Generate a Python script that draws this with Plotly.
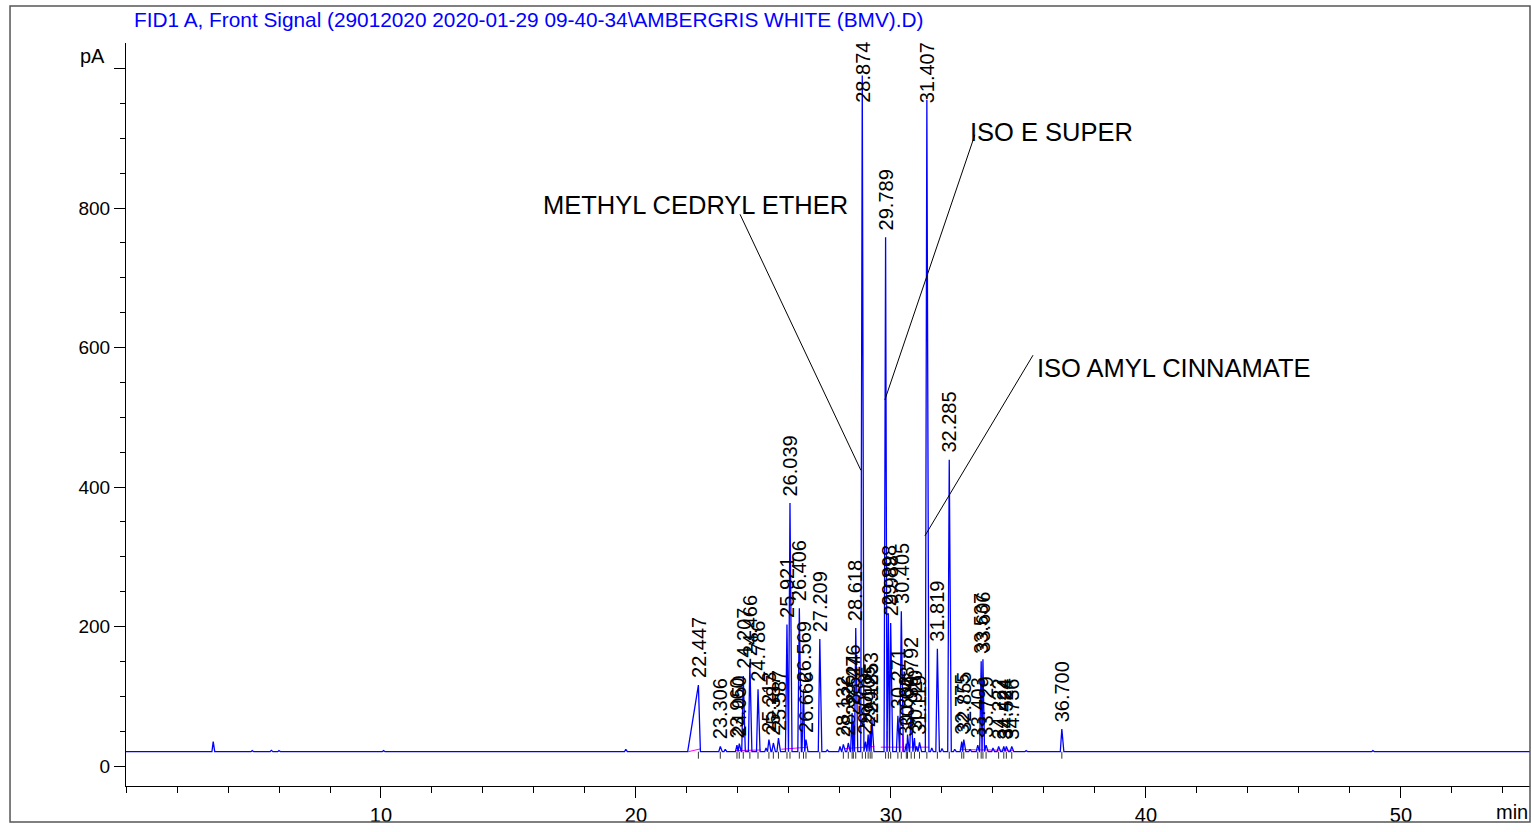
import plotly.graph_objects as go

# ---------------- data ----------------
title_text = "FID1 A, Front Signal (29012020 2020-01-29 09-40-34\\AMBERGRIS WHITE (BMV).D)"

peak_rt = [22.447, 23.306, 23.960, 24.050, 24.207, 24.466, 24.786, 25.213, 25.387, 25.587,
           25.921, 26.039, 26.406, 26.569, 26.666, 27.209, 28.132, 28.326, 28.476, 28.524,
           28.618, 28.874, 29.003, 29.105, 29.185, 29.253, 29.789, 29.898, 29.988, 30.271,
           30.405, 30.602, 30.648, 30.792, 30.920, 31.119, 31.407, 31.819, 32.285, 32.775,
           32.855, 33.403, 33.537, 33.606, 33.729, 34.222, 34.424, 34.524, 34.736, 36.700]
peak_height = [116, 28, 30, 32, 129, 148, 110, 38, 33, 40,
               203, 377, 226, 110, 38, 182, 31, 33, 76, 62,
               198, 990, 35, 45, 50, 66, 758, 219, 205, 72,
               222, 32, 45, 87, 40, 34, 955, 168, 439, 35,
               38, 30, 150, 153, 30, 28, 28, 28, 28, 53]

minor_rt = [3.42, 4.95, 5.70, 6.00, 10.10, 19.60, 23.50, 25.10, 27.50, 28.00,
            31.00, 31.60, 32.00, 32.50, 33.10, 34.00, 35.30, 48.90]
minor_height = [35, 22, 22.5, 22, 22, 24, 24, 26, 23, 28,
                28, 26, 25, 24, 24, 26, 22, 22]

baseline_level = 20.5

# integration baselines (magenta)
int_base_x0 = [22.05, 23.90, 25.70, 28.20, 29.60, 32.70]
int_base_y0 = [20.5, 22.0, 24.0, 25.0, 27.0, 23.5]
int_base_x1 = [22.52, 24.90, 26.75, 29.35, 31.50, 34.80]
int_base_y1 = [24.5, 23.0, 27.0, 28.0, 27.0, 22.5]
int_drop_rt = [25.98, 28.55, 29.85, 30.45, 32.80, 33.57]
int_drop_top = [54, 40, 50, 45, 33, 56]

compound_names = ["METHYL CEDRYL ETHER", "ISO E SUPER", "ISO AMYL CINNAMATE"]

x_tick_vals = [10, 20, 30, 40, 50]
y_tick_vals = [0, 200, 400, 600, 800, 1000]
y_tick_text = ["0", "200", "400", "600", "800", ""]

# ---------------- layout constants ----------------
X_MAX = 55.06
Y_MIN, Y_MAX = -28.67, 1036.6
FONT = "Liberation Sans, Arial, sans-serif"

# ---------------- build trace ----------------
lead = {22.447: 0.42}
peaks = sorted([(r, h, lead.get(r, 0.06), 0.08) for r, h in zip(peak_rt, peak_height)] +
               [(r, h, 0.05, 0.06) for r, h in zip(minor_rt, minor_height)])
xs, ys = [0.0], [baseline_level]
for i, (r, h, l, t) in enumerate(peaks):
    prev = peaks[i - 1][0] if i > 0 else -1e9
    nxt = peaks[i + 1][0] if i < len(peaks) - 1 else 1e9
    x0 = max(r - l, (prev + r) / 2)
    x1 = min(r + t, (r + nxt) / 2)
    xs += [x0, r, x1]
    ys += [baseline_level, h, baseline_level]
xs.append(X_MAX)
ys.append(baseline_level)

fig = go.Figure()

# magenta integration baselines
mx, my = [], []
for a, b, c, d in zip(int_base_x0, int_base_y0, int_base_x1, int_base_y1):
    mx += [a, c, None]
    my += [b, d, None]
for r, top in zip(int_drop_rt, int_drop_top):
    mx += [r, r, None]
    my += [baseline_level, top, None]
fig.add_trace(go.Scatter(x=mx, y=my, mode="lines", line=dict(color="#ff00ff", width=1),
                         hoverinfo="skip", showlegend=False))

# signal
fig.add_trace(go.Scatter(x=xs, y=ys, mode="lines", line=dict(color="#0000ff", width=1.3),
                         showlegend=False))

# peak tick marks below baseline
tx, ty = [], []
for r in peak_rt:
    tx += [r, r, None]
    ty += [baseline_level, baseline_level - 10, None]
fig.add_trace(go.Scatter(x=tx, y=ty, mode="lines", line=dict(color="#333333", width=1),
                         hoverinfo="skip", showlegend=False))

annotations = []
label_px = 61.0
px_per_unit = 743.0 / (Y_MAX - Y_MIN)
clamp = Y_MAX - label_px / px_per_unit
for r, h in zip(peak_rt, peak_height):
    ly = min(h + 6 / px_per_unit, clamp)
    annotations.append(dict(x=r, y=ly, xref="x", yref="y", text=f"{r:.3f}", showarrow=False,
                            textangle=-90, xanchor="center", yanchor="bottom",
                            font=dict(family=FONT, size=20, color="black"), borderpad=0))

# compound names with leader lines
name_pos = [(16.27, 804), (33.02, 909), (35.65, 571)]
leader = [((24.08, 791), (28.82, 424)), ((33.29, 905), (29.76, 525)), ((35.57, 589), (31.33, 330))]
shapes = []
for name, (nx, ny), ((ax, ay), (bx, by)) in zip(compound_names, name_pos, leader):
    annotations.append(dict(x=nx, y=ny, xref="x", yref="y", text=name, showarrow=False,
                            xanchor="left", yanchor="middle",
                            font=dict(family=FONT, size=25.5, color="black")))
    shapes.append(dict(type="line", xref="x", yref="y", x0=ax, y0=ay, x1=bx, y1=by,
                       line=dict(color="black", width=1)))

# title, unit labels
annotations.append(dict(x=0.004, y=1.0323, xref="paper", yref="paper", text=title_text,
                        showarrow=False, xanchor="left", yanchor="middle",
                        font=dict(family=FONT, size=20.8, color="#0000ff")))
annotations.append(dict(x=-0.0135, y=0.9825, xref="paper", yref="paper", text="pA",
                        showarrow=False, xanchor="right", yanchor="middle",
                        font=dict(family=FONT, size=20, color="black")))
annotations.append(dict(x=1.0, y=-0.035, xref="paper", yref="paper", text="min",
                        showarrow=False, xanchor="right", yanchor="middle",
                        font=dict(family=FONT, size=20, color="black")))

# outer frame
shapes.append(dict(type="rect", xref="paper", yref="paper", x0=-0.0826, x1=1.0,
                   y0=-0.0485, y1=1.0498, line=dict(color="#555555", width=1.5)))

fig.update_layout(
    width=1531, height=832,
    margin=dict(l=126, r=1, t=43, b=46),
    paper_bgcolor="white", plot_bgcolor="white",
    annotations=annotations, shapes=shapes,
    showlegend=False,
    xaxis=dict(range=[0, X_MAX], showgrid=False, zeroline=False, showline=True,
               linecolor="black", linewidth=1, ticks="outside", ticklen=11,
               tickcolor="black", tickmode="array", tickvals=x_tick_vals,
               tickfont=dict(family=FONT, size=20, color="black"),
               minor=dict(tickmode="linear", tick0=0, dtick=2, ticks="outside", ticklen=6,
                          tickcolor="black", showgrid=False)),
    yaxis=dict(range=[Y_MIN, Y_MAX], showgrid=False, zeroline=False, showline=True,
               linecolor="black", linewidth=1, ticks="outside", ticklen=11,
               tickcolor="black", tickmode="array", tickvals=y_tick_vals,
               ticktext=y_tick_text,
               tickfont=dict(family=FONT, size=19, color="black"),
               minor=dict(tickmode="linear", tick0=0, dtick=50, ticks="outside", ticklen=5,
                          tickcolor="black", showgrid=False)),
)

fig.write_html("out.html", config={"displayModeBar": False},
               post_script="document.body.style.margin='0';document.body.style.overflow='hidden';")
